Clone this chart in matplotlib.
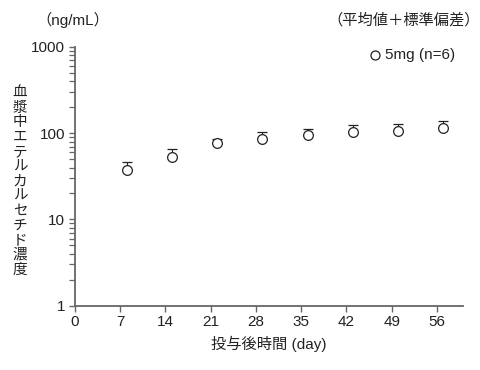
import numpy as np
import matplotlib
matplotlib.use("Agg")
from matplotlib import pyplot as plt
from matplotlib.ticker import LogLocator, NullFormatter, FixedLocator

plt.rcParams["font.family"] = ["Liberation Sans", "Noto Sans CJK JP", "DejaVu Sans"]

# Data
days = [8, 15, 22, 29, 36, 43, 50, 57]
mean_conc = [37.4, 53.3, 76.2, 84.8, 95.8, 102, 106, 115]
upper_conc = [45.9, 65.9, 86.1, 102, 112, 123, 127, 139]
x_ticks = [0, 7, 14, 21, 28, 35, 42, 49, 56]
y_ticks = [1, 10, 100, 1000]
y_label = "血漿中エテルカルセチド濃度"

ink = "#222222"
spine_color = "#666666"

fig = plt.figure(figsize=(4.81, 3.70), dpi=100)
ax = fig.add_axes([0.156, 0.174, 0.806, 0.699])

sd = np.array(upper_conc) - np.array(mean_conc)
ax.errorbar(
    days, mean_conc,
    yerr=[np.zeros(len(sd)), sd],
    fmt="o", ms=7, mfc="white", mec=ink, mew=0.9,
    ecolor=ink, elinewidth=0.8, capsize=3.5, capthick=0.8,
)

ax.set_yscale("log")
ax.set_ylim(1, 1000)
ax.set_xlim(0, 60)
ax.yaxis.set_major_locator(FixedLocator(y_ticks))
ax.set_yticklabels([str(v) for v in y_ticks])
ax.yaxis.set_minor_locator(LogLocator(base=10, subs=np.arange(2, 10)))
ax.yaxis.set_minor_formatter(NullFormatter())
ax.set_xticks(x_ticks)

for side in ("top", "right"):
    ax.spines[side].set_visible(False)
for side in ("left", "bottom"):
    ax.spines[side].set_color(spine_color)
    ax.spines[side].set_linewidth(1.3)

ax.tick_params(axis="both", which="major", direction="out", length=4,
               width=1.0, color=spine_color, labelsize=11, labelcolor=ink, pad=3)
ax.tick_params(axis="y", which="minor", direction="out", length=4,
               width=0.9, color=spine_color)

ax.set_xlabel("投与後時間 (day)", fontsize=11, color=ink, labelpad=5)

# vertical y label, one character per line (top to bottom)
top_px, step_px = 93, 14.7
for i, ch in enumerate(y_label):
    y_px = top_px + i * step_px
    fig.text(0.042, 1 - y_px / 370, ch, ha="center", va="center",
             fontsize=10.5, color=ink, family="Noto Sans CJK JP")

fig.text(0.075, 0.945, "（ng/mL）", ha="left", va="center", fontsize=11, color=ink)
fig.text(0.998, 0.945, "（平均値＋標準偏差）", ha="right", va="center",
         fontsize=11, color=ink)

# legend entry
ax.plot([0.774], [0.97], "o", transform=ax.transAxes, ms=6.5, mfc="white",
        mec=ink, mew=0.9, clip_on=False)
ax.text(0.8, 0.97, "5mg (n=6)", transform=ax.transAxes, ha="left",
        va="center", fontsize=11, color=ink)

fig.savefig("out.png", dpi=100, facecolor="w")
